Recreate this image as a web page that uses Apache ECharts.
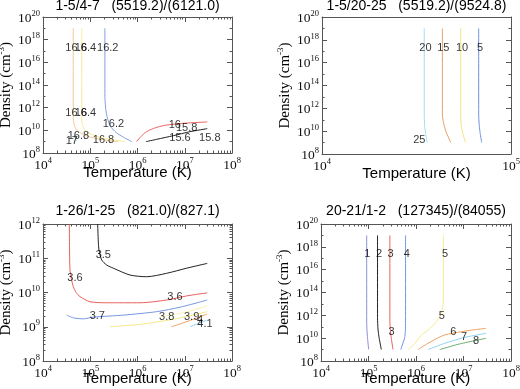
<!DOCTYPE html>
<html>
<head>
<meta charset="utf-8">
<script src="https://cdn.jsdelivr.net/npm/echarts@6/dist/echarts.min.js"></script>
<style>
html, body { margin: 0; padding: 0; background: #fff; }
#chart { width: 520px; height: 389px; }
</style>
</head>
<body>
<div id="chart"></div>
<script>
// all points are [log10 T, log10 n]

// panel 1: 1-5/4-7
var p1_166 = [[4.64, 19], [4.64, 11.2], [4.66, 10.5], [4.72, 10.0], [4.85, 9.65], [5.05, 9.35], [5.3, 9.15], [5.59, 9.0]];
var p1_164 = [[4.82, 19], [4.82, 11.0], [4.84, 10.4], [4.9, 9.95], [5.05, 9.6], [5.3, 9.3], [5.74, 9.0]];
var p1_162 = [[5.31, 19], [5.31, 13.0], [5.34, 11.5], [5.42, 10.4], [5.55, 9.8], [5.7, 9.4], [5.88, 9.0]];
var p1_160 = [[5.98, 9.0], [6.05, 9.35], [6.15, 9.75], [6.26, 10.03], [6.42, 10.28], [6.62, 10.47], [7.0, 10.63], [7.477, 10.74]];
var p1_158 = [[6.18, 9.0], [6.41, 9.21], [6.76, 9.53], [7.11, 9.88], [7.477, 10.15]];
var p1_170 = [[4.66, 9.0], [4.72, 9.15]];
var p1Text = ['16.6', '16.4', '16.2', '16.6', '16.4', '16.2', '16.8', '17', '16.8', '16', '15.8', '15.6', '15.8'];
var p1Pos = [[4.70, 17.29], [4.90, 17.29], [5.37, 17.29], [4.70, 11.5], [4.90, 11.5], [5.49, 10.56],
  [4.75, 9.53], [4.61, 9.09], [5.28, 9.15], [6.79, 10.47], [7.04, 10.18], [6.90, 9.30], [7.53, 9.35]];

// panel 2: 1-5/20-25
var p2_20 = [[4.541, 19], [4.541, 11.5], [4.543, 10.5], [4.548, 9.8], [4.557, 9.0]];
var p2_15 = [[4.637, 19], [4.637, 11.5], [4.642, 10.8], [4.655, 10.0], [4.668, 9.5], [4.681, 9.0]];
var p2_10 = [[4.734, 19], [4.734, 11.5], [4.737, 10.5], [4.745, 9.8], [4.76, 9.0]];
var p2_5 = [[4.829, 19], [4.829, 11.5], [4.832, 10.5], [4.837, 9.8], [4.845, 9.0]];
var p2Text = ['20', '15', '10', '5', '25'];
var p2Pos = [[4.547, 17.3], [4.642, 17.3], [4.741, 17.3], [4.836, 17.3], [4.515, 9.2]];

// panel 3: 1-26/1-25
var p3_35 = [[5.157, 12], [5.17, 11.5], [5.185, 11.24], [5.242, 10.95], [5.35, 10.8], [5.488, 10.71], [5.841, 10.51],
  [6.194, 10.46], [6.617, 10.56], [7.041, 10.71], [7.477, 10.85]];
var p3_36 = [[4.557, 12], [4.562, 11.3], [4.571, 10.66], [4.6, 10.4], [4.642, 10.17], [4.7, 10.0], [4.783, 9.88],
  [4.995, 9.73], [5.348, 9.70], [6.053, 9.70], [6.617, 9.78], [7.041, 9.90], [7.477, 9.99]];
var p3_37 = [[4.5, 9.34], [4.642, 9.26], [4.853, 9.23], [5.065, 9.28], [5.7, 9.34], [6.406, 9.44], [6.899, 9.57], [7.477, 9.78]];
var p3_38 = [[5.418, 9.0], [6.053, 9.07], [6.758, 9.22], [7.477, 9.44]];
var p3_385 = [[6.476, 9.29], [7.0, 9.42], [7.477, 9.61]];
var p3_39 = [[6.72, 9.0], [7.041, 9.15], [7.323, 9.29], [7.477, 9.37]];
var p3_40 = [[7.11, 9.0], [7.3, 9.1], [7.477, 9.2]];
var p3Text = ['3.5', '3.6', '3.6', '3.7', '3.8', '3.9', '4', '4.1'];
var p3Pos = [[5.277, 11.09], [4.677, 10.41], [6.794, 9.88], [5.15, 9.31], [6.617, 9.28], [7.146, 9.28], [7.323, 9.2], [7.429, 9.08]];

// panel 4: 20-21/1-2
var p4_1 = [[4.962, 19], [4.962, 11.5], [4.968, 10.7], [4.98, 10.0], [5.004, 9.0]];
var p4_2 = [[5.19, 19], [5.19, 11.8], [5.2, 10.8], [5.225, 10.0], [5.27, 9.0]];
var p4_3 = [[5.45, 19], [5.45, 11.5], [5.46, 10.7], [5.48, 10.0], [5.516, 9.0]];
var p4_4 = [[5.78, 19], [5.78, 11.5], [5.775, 10.6], [5.76, 10.0], [5.72, 9.5], [5.68, 9.0]];
var p4_5 = [[6.575, 19], [6.575, 13.4], [6.565, 12.8], [6.53, 12.2], [6.49, 11.8], [6.4, 11.3], [6.27, 10.75],
  [6.1, 10.2], [5.97, 9.5], [5.84, 9.0]];
var p4_6 = [[6.04, 9.0], [6.253, 9.55], [6.45, 10.0], [6.604, 10.28], [6.954, 10.57], [7.2, 10.72], [7.477, 10.86]];
var p4_7 = [[6.253, 9.0], [6.604, 9.55], [7.025, 10.07], [7.477, 10.42]];
var p4_8 = [[6.499, 9.0], [6.884, 9.46], [7.477, 9.99]];
var p4Text = ['1', '2', '3', '4', '5', '5', '3', '6', '7', '8'];
var p4Pos = [[4.975, 17.34], [5.221, 17.34], [5.467, 17.34], [5.804, 17.34], [6.61, 17.34], [6.541, 11.97],
  [5.488, 10.51], [6.785, 10.51], [7.011, 10.13], [7.263, 9.78]];

var titles = ['1-5/4-7   (5519.2)/(6121.0)', '1-5/20-25   (5519.2)/(9524.8)',
  '1-26/1-25   (821.0)/(827.1)', '20-21/1-2   (127345)/(84055)'];

var panels = [
  { box: [43, 17, 189, 136], titleTop: -1, x: [4, 8], y: [8, 20], yStep: 2, xMinor: true, gap: 12,
    lines: [[p1_166, '#f1c994'], [p1_164, '#f5ec9a'], [p1_162, '#7f9fe0'], [p1_160, '#e8605c'], [p1_158, '#222'], [p1_170, '#8fd3f0']],
    text: p1Text, pos: p1Pos },
  { box: [322, 17, 189, 137], titleTop: -1, x: [4, 5], y: [8, 20], yStep: 2, xMinor: false, gap: 12,
    lines: [[p2_20, '#a6daf2'], [p2_15, '#eb9f68'], [p2_10, '#f3e37e'], [p2_5, '#6f8fe0']],
    text: p2Text, pos: p2Pos },
  { box: [43, 224, 189, 137], titleTop: 204, x: [4, 8], y: [8, 12], yStep: 1, xMinor: true, gap: 10,
    lines: [[p3_35, '#222'], [p3_36, '#e8605c'], [p3_37, '#7396e0'], [p3_38, '#f3e886'], [p3_385, '#f7f0b0'], [p3_39, '#eda060'], [p3_40, '#8fd3f0']],
    text: p3Text, pos: p3Pos },
  { box: [321, 224, 190, 137], titleTop: 204, x: [4, 8], y: [8, 20], yStep: 2, xMinor: true, gap: 10,
    lines: [[p4_1, '#8a8ed8'], [p4_2, '#222'], [p4_3, '#e8605c'], [p4_4, '#7396e0'], [p4_5, '#f3ea90'], [p4_6, '#eda060'], [p4_7, '#8fd3f0'], [p4_8, '#6cae6c']],
    text: p4Text, pos: p4Pos }
];

function steps(min, max, step) {
  var a = [];
  for (var v = min; v <= max + 1e-9; v += step) a.push(v);
  return a;
}
function logMinor(min, max) {
  var a = [];
  for (var d = min; d < max; d++) for (var k = 2; k <= 9; k++) a.push(d + Math.log10(k));
  return a;
}
function oddDecades(min, max) {
  var a = [];
  for (var d = min + 1; d < max; d += 2) a.push(d);
  return a;
}

var tickRich = {
  b: { fontFamily: 'Liberation Serif', fontSize: 13.5, color: '#111', lineHeight: 16, verticalAlign: 'bottom' },
  s: { fontFamily: 'Liberation Serif', fontSize: 8.5, color: '#111', lineHeight: 16, verticalAlign: 'top' }
};

function axis(grid, pos, range, step, ticks, len, withLine, withLabel) {
  return {
    type: 'value', gridIndex: grid, position: pos, min: range[0], max: range[1], interval: step,
    axisLine: { show: withLine, onZero: false, lineStyle: { color: '#555', width: 1 } },
    axisTick: { show: true, inside: true, length: len, customValues: ticks, lineStyle: { color: '#555', width: 1 } },
    axisLabel: withLabel ? {
      show: true, margin: 3, showMinLabel: true, showMaxLabel: true,
      formatter: function (v) { return '{b|10}{s|' + v + '}'; }, rich: tickRich
    } : { show: false },
    splitLine: { show: false }
  };
}

var option = { animation: false, title: [], grid: [], xAxis: [], yAxis: [], series: [] };

panels.forEach(function (p, i) {
  option.title.push({
    text: titles[i], left: p.box[0] + p.box[2] / 2, top: p.titleTop, textAlign: 'center', padding: 0,
    textStyle: { fontFamily: 'Liberation Sans', fontSize: 14, fontWeight: 'normal', color: '#000' }
  });
  option.grid.push({ left: p.box[0], top: p.box[1], width: p.box[2], height: p.box[3], outerBoundsMode: 'none', containLabel: false });

  var xi = option.xAxis.length, yi = option.yAxis.length;
  var xMaj = steps(p.x[0], p.x[1], 1), yMaj = steps(p.y[0], p.y[1], p.yStep);
  var xMin = p.xMinor ? logMinor(p.x[0], p.x[1]) : [];
  var yMin = p.yStep === 1 ? logMinor(p.y[0], p.y[1]) : oddDecades(p.y[0], p.y[1]);

  var xb = axis(i, 'bottom', p.x, 1, xMaj, 5, true, true);
  xb.name = 'Temperature (K)';
  xb.nameLocation = 'middle';
  xb.nameGap = p.gap;
  xb.nameMoveOverlap = false;
  xb.nameTextStyle = { fontFamily: 'Liberation Sans', fontSize: 15, color: '#000' };
  option.xAxis.push(xb, axis(i, 'top', p.x, 1, xMaj, 5, true, false),
    axis(i, 'bottom', p.x, 1, xMin, 2.5, false, false), axis(i, 'top', p.x, 1, xMin, 2.5, false, false));

  var yl = axis(i, 'left', p.y, p.yStep, yMaj, 5, true, true);
  yl.name = 'Density (cm{s|-3})';
  yl.nameLocation = 'middle';
  yl.nameGap = 28;
  yl.nameMoveOverlap = false;
  yl.nameTextStyle = {
    fontFamily: 'Liberation Serif', fontSize: 15, color: '#000',
    rich: { s: { fontFamily: 'Liberation Serif', fontSize: 9, color: '#000', verticalAlign: 'top', lineHeight: 18 } }
  };
  option.yAxis.push(yl, axis(i, 'right', p.y, p.yStep, yMaj, 5, true, false),
    axis(i, 'left', p.y, p.yStep, yMin, 2.5, false, false), axis(i, 'right', p.y, p.yStep, yMin, 2.5, false, false));

  p.lines.forEach(function (l) {
    option.series.push({
      type: 'line', xAxisIndex: xi, yAxisIndex: yi, data: l[0], showSymbol: false, smooth: 0.25,
      silent: true, clip: true, lineStyle: { color: l[1], width: 1 }
    });
  });

  option.series.push({
    type: 'scatter', xAxisIndex: xi, yAxisIndex: yi, symbolSize: 1, silent: true, z: 5,
    itemStyle: { color: 'rgba(0,0,0,0)' },
    data: p.pos.map(function (v, k) { return { value: v, name: p.text[k] }; }),
    label: {
      show: true, position: 'inside', formatter: '{b}',
      fontFamily: 'Liberation Sans', fontSize: 11, color: '#000'
    }
  });
});

var chart = echarts.init(document.getElementById('chart'));
chart.setOption(option);
</script>
</body>
</html>
